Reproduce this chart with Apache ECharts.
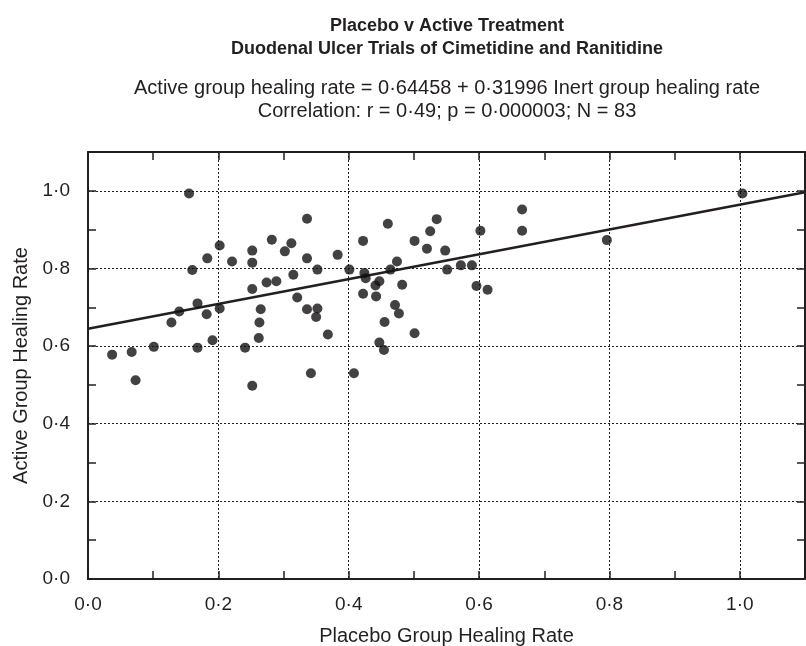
<!DOCTYPE html>
<html>
<head>
<meta charset="utf-8">
<title>Placebo v Active Treatment</title>
<script src="https://cdn.jsdelivr.net/npm/echarts@6/dist/echarts.min.js"></script>
<style>
  html, body { margin: 0; padding: 0; background: #fff; }
  #chart { width: 806px; height: 646px; }
</style>
</head>
<body>
<div id="chart"></div>
<script>
'use strict'

/* Chart data */
var placeboRate = [
    0.037, 0.067, 0.073, 0.101, 0.128, 0.140, 0.155, 0.160, 0.168, 0.168,
    0.182, 0.183, 0.191, 0.202, 0.202, 0.221, 0.241,
    0.252, 0.252, 0.252, 0.252, 0.265, 0.263, 0.262, 0.274, 0.282, 0.289,
    0.302, 0.312, 0.315, 0.321, 0.336, 0.336, 0.336, 0.342, 0.350, 0.352,
    0.352, 0.368, 0.383, 0.401, 0.408, 0.422, 0.422, 0.424, 0.426, 0.441,
    0.442, 0.447, 0.447, 0.454, 0.455, 0.460, 0.464, 0.471, 0.474, 0.477,
    0.482,
    0.501, 0.501, 0.520, 0.525, 0.535, 0.548, 0.551, 0.572, 0.589, 0.596,
    0.602, 0.613, 0.666, 0.666, 0.796, 1.004
];
var activeRate = [
    0.578, 0.585, 0.512, 0.598, 0.661, 0.689, 0.993, 0.796, 0.710, 0.596,
    0.682, 0.826, 0.615, 0.859, 0.697, 0.818, 0.596,
    0.846, 0.815, 0.747, 0.498, 0.695, 0.661, 0.621, 0.764, 0.874, 0.767,
    0.844, 0.865, 0.784, 0.725, 0.928, 0.826, 0.695, 0.530, 0.675, 0.797,
    0.697, 0.630, 0.835, 0.797, 0.530, 0.871, 0.735, 0.788, 0.775, 0.756,
    0.728, 0.767, 0.609, 0.590, 0.662, 0.915, 0.797, 0.706, 0.818, 0.684,
    0.758,
    0.871, 0.633, 0.851, 0.896, 0.927, 0.846, 0.797, 0.808, 0.808, 0.755,
    0.897, 0.745, 0.952, 0.897, 0.873, 0.993
];

/* Fitted line: active = intercept + slope * placebo */
var intercept = 0.64458;
var slope = 0.31996;

/* Axis scale, both axes */
var axisMin = 0;
var axisMax = 1.1;
var tickStep = 0.1;

var ink = '#231f20';
var font = "'Liberation Sans', Arial, Helvetica, sans-serif";

var points = placeboRate.map(function (x, i) { return [x, activeRate[i]]; });
var fitLine = [axisMin, axisMax].map(function (x) { return [x, intercept + slope * x]; });

function tickLabel(v) {
    // labels only every 0.2, with a raised decimal point
    var n = Math.round(v * 10);
    if (n % 2 !== 0) return '';
    return (n / 10).toFixed(1).replace('.', '\u00b7');
}

function mainAxis(pos, name, gap, labelGap) {
    return {
        type: 'value',
        position: pos,
        min: axisMin,
        max: axisMax,
        interval: tickStep,
        name: name,
        nameLocation: 'middle',
        nameGap: gap,
        nameMoveOverlap: false,
        nameTextStyle: { fontSize: 20, color: ink, fontFamily: font },
        axisLine: { show: true, onZero: false, lineStyle: { color: ink, width: 2 } },
        axisTick: { show: true, inside: true, length: 8, lineStyle: { color: ink, width: 1.5 } },
        axisLabel: { margin: labelGap, fontSize: 19, color: ink, fontFamily: font, formatter: tickLabel },
        splitLine: {
            show: true,
            lineStyle: { type: [2, 2], width: 1, color: [ink, 'rgba(0,0,0,0)'] }
        }
    };
}

function frameAxis(pos) {
    return {
        type: 'value',
        position: pos,
        min: axisMin,
        max: axisMax,
        interval: tickStep,
        axisLine: { show: true, onZero: false, lineStyle: { color: ink, width: 2 } },
        axisTick: { show: true, inside: true, length: 8, lineStyle: { color: ink, width: 1.5 } },
        axisLabel: { show: false },
        splitLine: { show: false }
    };
}

function titleLine(text, top, size, weight) {
    return {
        text: text,
        left: 447,
        top: top,
        textAlign: 'center',
        padding: 0,
        textStyle: { fontSize: size, fontWeight: weight, color: ink, fontFamily: font }
    };
}

var chart = echarts.init(document.getElementById('chart'), null, { renderer: 'canvas' });

var option = {
    animation: false,
    backgroundColor: '#ffffff',
    title: [
        titleLine('Placebo v Active Treatment', 17, 18, 'bold'),
        titleLine('Duodenal Ulcer Trials of Cimetidine and Ranitidine', 40, 18, 'bold'),
        titleLine('Active group healing rate = 0\u00b764458 + 0\u00b731996 Inert group healing rate', 78, 20, 'normal'),
        titleLine('Correlation: r = 0\u00b749; p = 0\u00b7000003; N = 83', 101, 20, 'normal')
    ],
    grid: {
        left: 88,
        right: 1,
        top: 152,
        bottom: 67,
        containLabel: false,
        outerBoundsMode: 'none'
    },
    xAxis: [
        mainAxis('bottom', 'Placebo Group Healing Rate', 47, 16),
        frameAxis('top')
    ],
    yAxis: [
        mainAxis('left', 'Active Group Healing Rate', 57, 18),
        frameAxis('right')
    ],
    series: [
        {
            name: 'Trials',
            type: 'scatter',
            xAxisIndex: 0,
            yAxisIndex: 0,
            symbol: 'circle',
            symbolSize: 10,
            itemStyle: { color: '#141213' },
            data: points,
            z: 3
        },
        {
            name: 'Fit',
            type: 'line',
            xAxisIndex: 0,
            yAxisIndex: 0,
            symbol: 'none',
            lineStyle: { color: ink, width: 2.5 },
            data: fitLine,
            z: 2
        }
    ]
};

chart.setOption(option);
</script>
</body>
</html>
